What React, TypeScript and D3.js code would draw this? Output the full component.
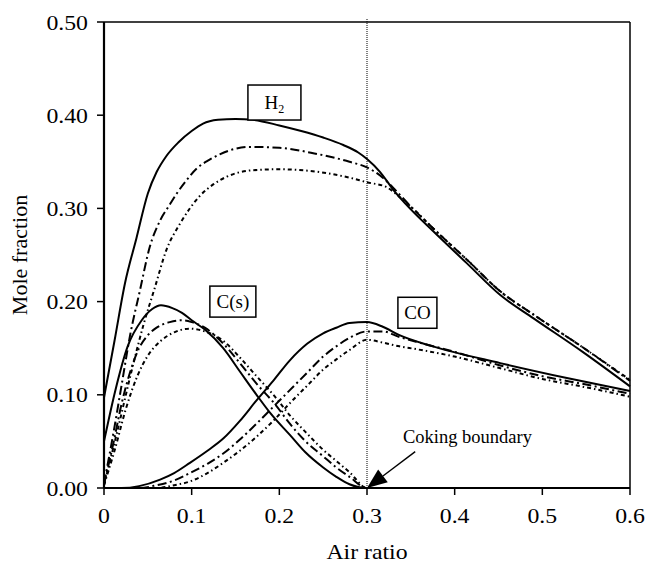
import React from "react";
import * as d3 from "d3";

type Pt = [number, number];

// Air ratio (x) vs mole fraction (y) — three cases per species
const h2Solid: Pt[] = [[0,0.097],[0.012,0.158],[0.024,0.22],[0.037,0.268],[0.05,0.316],[0.06,0.339],[0.071,0.356],[0.085,0.371],[0.1,0.383],[0.113,0.391],[0.13,0.395],[0.15,0.396],[0.17,0.395],[0.2,0.389],[0.225,0.383],[0.25,0.376],[0.273,0.368],[0.29,0.36],[0.3,0.353],[0.315,0.339],[0.33,0.32],[0.35,0.299],[0.375,0.276],[0.414,0.241],[0.452,0.207],[0.49,0.182],[0.546,0.146],[0.6,0.109]];
const h2Dash: Pt[] = [[0,0.005],[0.01,0.055],[0.02,0.11],[0.03,0.165],[0.041,0.212],[0.052,0.258],[0.064,0.287],[0.075,0.304],[0.083,0.316],[0.094,0.33],[0.106,0.343],[0.12,0.352],[0.132,0.358],[0.15,0.364],[0.166,0.366],[0.2,0.365],[0.24,0.359],[0.28,0.35],[0.3,0.344],[0.318,0.333],[0.33,0.322],[0.35,0.302],[0.375,0.279],[0.414,0.245],[0.452,0.211],[0.49,0.186],[0.546,0.151],[0.6,0.115]];
const h2Dot: Pt[] = [[0,0.003],[0.015,0.06],[0.03,0.12],[0.045,0.175],[0.058,0.215],[0.071,0.255],[0.087,0.284],[0.109,0.313],[0.125,0.326],[0.14,0.334],[0.17,0.341],[0.2,0.342],[0.246,0.339],[0.28,0.333],[0.3,0.328],[0.322,0.323],[0.335,0.314],[0.35,0.302],[0.375,0.279],[0.414,0.245],[0.452,0.211],[0.49,0.186],[0.546,0.151],[0.6,0.116]];

const csSolid: Pt[] = [[0,0.05],[0.013,0.105],[0.027,0.152],[0.043,0.18],[0.055,0.192],[0.065,0.196],[0.078,0.193],[0.089,0.188],[0.1,0.18],[0.115,0.17],[0.136,0.15],[0.155,0.125],[0.174,0.1],[0.19,0.08],[0.212,0.057],[0.23,0.038],[0.25,0.022],[0.265,0.012],[0.28,0.004],[0.3,0],[0.33,0]];
const csDash: Pt[] = [[0,0.004],[0.01,0.045],[0.02,0.09],[0.03,0.125],[0.04,0.15],[0.05,0.164],[0.06,0.172],[0.075,0.178],[0.088,0.18],[0.1,0.178],[0.115,0.172],[0.136,0.155],[0.155,0.134],[0.174,0.112],[0.195,0.09],[0.212,0.069],[0.23,0.05],[0.25,0.034],[0.265,0.022],[0.28,0.012],[0.3,0],[0.33,0]];
const csDot: Pt[] = [[0,0.003],[0.012,0.04],[0.025,0.085],[0.038,0.12],[0.05,0.142],[0.065,0.158],[0.08,0.167],[0.098,0.171],[0.115,0.168],[0.136,0.158],[0.155,0.14],[0.174,0.12],[0.195,0.098],[0.212,0.078],[0.23,0.06],[0.25,0.041],[0.265,0.029],[0.28,0.017],[0.3,0],[0.33,0]];

const coSolid: Pt[] = [[0,0],[0.02,0],[0.04,0.002],[0.064,0.009],[0.08,0.016],[0.098,0.027],[0.118,0.04],[0.136,0.053],[0.155,0.072],[0.174,0.094],[0.193,0.115],[0.212,0.137],[0.232,0.155],[0.25,0.166],[0.265,0.172],[0.28,0.177],[0.3,0.178],[0.318,0.173],[0.337,0.164],[0.375,0.152],[0.452,0.134],[0.528,0.118],[0.6,0.104]];
const coDash: Pt[] = [[0,0],[0.04,0],[0.06,0.003],[0.08,0.008],[0.098,0.016],[0.118,0.026],[0.136,0.037],[0.155,0.052],[0.174,0.069],[0.193,0.087],[0.212,0.105],[0.232,0.124],[0.25,0.141],[0.265,0.152],[0.28,0.161],[0.3,0.168],[0.318,0.168],[0.337,0.162],[0.356,0.157],[0.4,0.146],[0.45,0.132],[0.5,0.12],[0.55,0.111],[0.6,0.101]];
const coDot: Pt[] = [[0,0],[0.06,0],[0.08,0.003],[0.098,0.007],[0.118,0.016],[0.136,0.027],[0.155,0.04],[0.174,0.055],[0.193,0.072],[0.212,0.091],[0.232,0.11],[0.25,0.127],[0.265,0.138],[0.28,0.148],[0.3,0.159],[0.318,0.156],[0.337,0.152],[0.356,0.149],[0.4,0.141],[0.45,0.129],[0.5,0.117],[0.55,0.108],[0.6,0.098]];

const xTicks = [0, 0.1, 0.2, 0.3, 0.4, 0.5, 0.6];
const xTickLabels = ["0", "0.1", "0.2", "0.3", "0.4", "0.5", "0.6"];
const yTicks = [0, 0.1, 0.2, 0.3, 0.4, 0.5];
const yTickLabels = ["0.00", "0.10", "0.20", "0.30", "0.40", "0.50"];

const cokingX = 0.3;

const seriesList: { data: Pt[]; style: string }[] = [
  { data: h2Solid, style: "solid" },
  { data: h2Dash, style: "dashdot" },
  { data: h2Dot, style: "dot" },
  { data: csSolid, style: "solid" },
  { data: csDash, style: "dashdot" },
  { data: csDot, style: "dot" },
  { data: coSolid, style: "solid" },
  { data: coDash, style: "dashdot" },
  { data: coDot, style: "dot" },
];

const dashFor: Record<string, string | undefined> = {
  solid: undefined,
  dashdot: "9,3.5,2,3.5",
  dot: "4,3,1.5,3",
};

const W = 645, H = 565;
const M = { left: 104, right: 630, top: 22, bottom: 488 };
const FONT = "'Liberation Serif', 'Times New Roman', serif";

export default function App() {
  const x = d3.scaleLinear().domain([0, 0.6]).range([M.left, M.right]);
  const y = d3.scaleLinear().domain([0, 0.5]).range([M.bottom, M.top]);
  const line = d3
    .line<Pt>()
    .x((d) => x(d[0]))
    .y((d) => y(d[1]))
    .curve(d3.curveMonotoneX);

  const labelBoxes = [
    { cx: 0.1944, cy: 0.4136, w: 53, h: 35, text: "H", sub: "2" },
    { cx: 0.147, cy: 0.2, w: 46, h: 31, text: "C(s)", sub: "" },
    { cx: 0.3575, cy: 0.188, w: 39, h: 31, text: "CO", sub: "" },
  ];

  const stretch = (cx: number) => `translate(${cx},0) scale(1.08,1) translate(${-cx},0)`;

  // arrow geometry (from annotation text to coking point on axis)
  const ax1 = x(0.355), ay1 = y(0.039);
  const ax2 = x(cokingX), ay2 = y(0);
  const ang = Math.atan2(ay2 - ay1, ax2 - ax1);
  const headL = 20, headW = 8;
  const bx = ax2 - headL * Math.cos(ang), by = ay2 - headL * Math.sin(ang);
  const px = -Math.sin(ang) * headW, py = Math.cos(ang) * headW;
  const headPath = `M${ax2},${ay2} L${bx + px},${by + py} L${bx - px},${by - py} Z`;

  return (
    <svg
      width={W}
      height={H}
      style={{ position: "absolute", left: 0, top: 0, background: "#fff" }}
      fontFamily={FONT}
    >
      <rect x={0} y={0} width={W} height={H} fill="#fff" />

      {/* frame */}
      <line x1={M.left} x2={M.right} y1={M.top} y2={M.top} stroke="#000" strokeWidth={1.5} />
      <line x1={M.right} x2={M.right} y1={M.top} y2={M.bottom} stroke="#000" strokeWidth={1.5} />

      {/* coking boundary vertical */}
      <line x1={x(cokingX)} x2={x(cokingX)} y1={M.top - 3} y2={M.bottom} stroke="#000" strokeWidth={1} strokeDasharray="1,1" />

      {/* series */}
      {seriesList.map((s, i) => (
        <path
          key={i}
          d={line(s.data) || ""}
          fill="none"
          stroke="#000"
          strokeWidth={2}
          strokeDasharray={dashFor[s.style]}
        />
      ))}

      {/* axes */}
      <line x1={M.left} x2={M.left} y1={M.top} y2={M.bottom} stroke="#000" strokeWidth={2.2} />
      <line x1={M.left} x2={M.right} y1={M.bottom} y2={M.bottom} stroke="#000" strokeWidth={2.2} />
      {yTicks.map((t, i) => (
        <g key={"y" + i}>
          <line x1={M.left - 7} x2={M.left} y1={y(t)} y2={y(t)} stroke="#000" strokeWidth={1.5} />
          <text x={M.left - 16} y={y(t)} dy="0.35em" textAnchor="end" fontSize={22} transform={stretch(M.left - 16)}>
            {yTickLabels[i]}
          </text>
        </g>
      ))}
      {xTicks.map((t, i) => (
        <g key={"x" + i}>
          <line x1={x(t)} x2={x(t)} y1={M.bottom} y2={M.bottom + 7} stroke="#000" strokeWidth={1.5} />
          <text x={x(t)} y={523} textAnchor="middle" fontSize={22} transform={stretch(x(t))}>
            {xTickLabels[i]}
          </text>
        </g>
      ))}
      <text x={(M.left + M.right) / 2} y={559} textAnchor="middle" fontSize={22} transform={stretch((M.left + M.right) / 2)}>
        Air ratio
      </text>
      <text
        transform={`translate(27,${(M.top + M.bottom) / 2}) rotate(-90)`}
        textAnchor="middle"
        fontSize={22}
      >
        Mole fraction
      </text>

      {/* label boxes */}
      {labelBoxes.map((b, i) => (
        <g key={"b" + i}>
          <rect
            x={x(b.cx) - b.w / 2}
            y={y(b.cy) - b.h / 2}
            width={b.w}
            height={b.h}
            fill="#fff"
            stroke="#000"
            strokeWidth={1.5}
          />
          <text x={x(b.cx)} y={y(b.cy)} dy="0.35em" textAnchor="middle" fontSize={19}>
            {b.text}
            {b.sub ? (
              <tspan fontSize={12} dy="4">
                {b.sub}
              </tspan>
            ) : null}
          </text>
        </g>
      ))}

      {/* coking boundary annotation */}
      <text x={x(0.341)} y={y(0.048)} fontSize={18.5}>
        Coking boundary
      </text>
      <line x1={ax1} y1={ay1} x2={bx} y2={by} stroke="#000" strokeWidth={1.4} />
      <path d={headPath} fill="#000" />
    </svg>
  );
}
